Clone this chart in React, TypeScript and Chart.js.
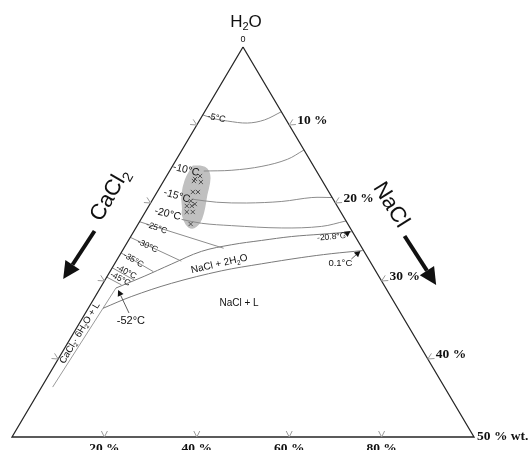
import React, { useEffect, useRef } from 'react';
import { Chart, registerables } from 'chart.js';
Chart.register(...registerables);

// All compositions are [NaCl wt%, CaCl2 wt%]; H2O is the remainder.
const frame = [[0, 0], [50, 0], [0, 50], [0, 0]];
const iso5 = [[0, 8.7], [1.5, 7.7], [3.1, 6.4], [5.35, 4.4], [7.0, 2.35], [8.3, 0]];
const iso10 = [[3.7, 12.2], [6.7, 9.1], [9.7, 5.6], [12.0, 2.4], [13.2, 0]];
const iso15 = [[4.2, 15.3], [7.1, 12.8], [10.4, 9.6], [14.1, 5.7], [17.1, 2.2], [19.3, 0]];
const iso20 = [[4.4, 17.7], [6.8, 15.8], [10.2, 12.7], [15.8, 7.4], [20.0, 3.0], [22.3, 0]];
const iso25 = [[0, 22.4], [10.8, 15.0]];
const iso30 = [[0, 24.4], [7.05, 20.4]];
const iso35 = [[0, 26.4], [4.7, 24.1]];
const iso40 = [[0, 28.3], [3.2, 26.7]];
const iso45 = [[0, 29.5], [2.1, 28.4]];
const iceHydrohalite = [[1.7, 29.2], [4.0, 25.4], [6.15, 21.7], [8.6, 17.6], [11.45, 13.9], [14.4, 10.4], [17.4, 6.9], [20.5, 3.5], [23.6, 0.1]];
const hydrohaliteHalite = [[1.6, 31.9], [3.9, 28.1], [7.4, 22.9], [12.0, 16.7], [15.9, 11.9], [19.8, 7.2], [22.8, 3.7], [26.0, 0.1]];
const antarcticite = [[1.2, 42.4], [1.7, 29.2]];
const inclusionField = [[2.2, 13.1], [3.0, 12.3], [3.9, 11.74], [4.8, 11.99], [5.55, 13.42], [6.3, 14.85], [6.55, 16.0], [6.1, 17.1], [5.2, 17.5], [4.2, 17.3], [3.85, 16.9], [2.9, 16.07], [2.3, 14.75], [2.2, 13.1]];
const inclusions = [[3.62, 12.92], [3.27, 13.65], [3.28, 13.9], [4.1, 13.21], [3.87, 14.72], [4.42, 14.17], [4.22, 15.52], [4.85, 15.28], [4.11, 16.27], [4.65, 15.73], [4.49, 16.66], [5.14, 16.01], [5.68, 17.01]];

const edgeTicks = [10, 20, 30, 40];
const rightTickLabels = ['10 %', '20 %', '30 %', '40 %'];
const bottomTickLabels = ['20 %', '40 %', '60 %', '80 %'];
const cornerLabel = '50 % wt.';

const toXY = (pts: number[][]) => pts.map(([a, c]) => ({ x: (a - c) / 2, y: a + c }));

const SANS = '"Liberation Sans", Arial, sans-serif';
const SERIF = '"Liberation Serif", "Times New Roman", serif';

type Part = { t: string; sub?: boolean; sup?: boolean };

function rich(ctx: CanvasRenderingContext2D, parts: Part[], x: number, y: number, size: number, rot = 0, align = 'center', font = SANS, weight = '') {
  ctx.save();
  ctx.translate(x, y);
  ctx.rotate((rot * Math.PI) / 180);
  ctx.textBaseline = 'middle';
  ctx.textAlign = 'left';
  const fs = (p: Part) => (p.sub || p.sup ? size * 0.65 : size);
  let w = 0;
  parts.forEach((p) => {
    ctx.font = `${weight} ${fs(p)}px ${font}`;
    w += ctx.measureText(p.t).width;
  });
  let cx = align === 'center' ? -w / 2 : align === 'right' ? -w : 0;
  parts.forEach((p) => {
    ctx.font = `${weight} ${fs(p)}px ${font}`;
    const dy = p.sub ? size * 0.32 : p.sup ? -size * 0.32 : 0;
    ctx.fillText(p.t, cx, dy);
    cx += ctx.measureText(p.t).width;
  });
  ctx.restore();
}

function head(ctx: CanvasRenderingContext2D, x1: number, y1: number, x2: number, y2: number, len: number, hw: number) {
  const ang = Math.atan2(y2 - y1, x2 - x1);
  const bx = x2 - len * Math.cos(ang), by = y2 - len * Math.sin(ang);
  const nx = -Math.sin(ang), ny = Math.cos(ang);
  ctx.beginPath();
  ctx.moveTo(x2, y2);
  ctx.lineTo(bx + nx * hw, by + ny * hw);
  ctx.lineTo(bx - nx * hw, by - ny * hw);
  ctx.closePath();
  ctx.fill();
  return [bx, by];
}

const annotations = {
  id: 'annotations',
  afterDatasetsDraw(chart: any) {
    const ctx: CanvasRenderingContext2D = chart.ctx;
    const xs = chart.scales.x, ys = chart.scales.y;
    const P = (a: number, c: number): [number, number] => [xs.getPixelForValue((a - c) / 2), ys.getPixelForValue(a + c)];
    ctx.save();
    // ticks
    ctx.strokeStyle = '#9a9a9a';
    ctx.lineWidth = 1;
    const vmark = (x: number, y: number, nx: number, ny: number) => {
      const ex = -ny, ey = nx;
      ctx.beginPath();
      ctx.moveTo(x + nx * 6 + ex * 3, y + ny * 6 + ey * 3);
      ctx.lineTo(x, y);
      ctx.lineTo(x + nx * 6 - ex * 3, y + ny * 6 - ey * 3);
      ctx.stroke();
    };
    const [ax, ay] = P(0, 0);
    const [rx, ry] = P(50, 0);
    const [lx, ly] = P(0, 50);
    const nrm = (dx: number, dy: number) => { const l = Math.hypot(dx, dy); return [dx / l, dy / l]; };
    const [lnx, lny] = nrm(-(ly - ay), lx - ax); // outward of left edge
    const [rnx, rny] = nrm(ry - ay, -(rx - ax));
    edgeTicks.forEach((v) => {
      const [x1, y1] = P(0, v);
      vmark(x1, y1, lnx, lny);
      const [x2, y2] = P(v, 0);
      vmark(x2, y2, rnx, rny);
      const [x3, y3] = P(v, 50 - v);
      vmark(x3, y3, 0, -1);
    });
    ctx.fillStyle = '#111';
    edgeTicks.forEach((v, i) => {
      const [x, y] = P(v, 0);
      rich(ctx, [{ t: rightTickLabels[i] }], x + 8, y - 4, 13.5, 0, 'left', SERIF, 'bold');
      const [bx, by] = P(v, 50 - v);
      rich(ctx, [{ t: bottomTickLabels[i] }], bx, by + 12, 13.5, 0, 'center', SERIF, 'bold');
    });
    rich(ctx, [{ t: cornerLabel }], rx + 3, ry, 13.5, 0, 'left', SERIF, 'bold');
    // apex
    rich(ctx, [{ t: 'H' }, { t: '2', sub: true }, { t: 'O' }], ax + 3, ay - 25, 17);
    rich(ctx, [{ t: '0' }], ax, ay - 7, 9);
    // component names
    let p = P(-4.92, 23.89);
    rich(ctx, [{ t: 'CaCl' }, { t: '2', sub: true }], p[0], p[1], 22, -60);
    p = P(26.12, -5.86);
    rich(ctx, [{ t: 'NaCl' }], p[0], p[1], 22, 58);
    // big arrows
    const bigArrow = (a1: number, c1: number, a2: number, c2: number) => {
      const [x1, y1] = P(a1, c1);
      const [x2, y2] = P(a2, c2);
      const [bx, by] = head(ctx, x1, y1, x2, y2, 17, 8.5);
      ctx.strokeStyle = '#111';
      ctx.lineWidth = 4;
      ctx.beginPath();
      ctx.moveTo(x1, y1);
      ctx.lineTo(bx, by);
      ctx.stroke();
    };
    bigArrow(-4.27, 27.86, -4.59, 34.33);
    bigArrow(29.6, -5.37, 36.16, -5.65);
    // isotherm labels
    const iso: [string, number, number, number, number][] = [
      ['-5°C', 1.68, 7.42, 12, 9],
      ['-10°C', 1.72, 14.05, 14, 10.5],
      ['-15°C', 2.39, 16.71, 16, 10.5],
      ['-20°C', 2.56, 18.85, 14, 10.5],
      ['-25°C', 2.25, 20.96, 20, 8.5],
      ['-30°C', 2.42, 23.09, 25, 8.5],
      ['-35°C', 1.79, 25.52, 30, 8.5],
      ['-40°C', 1.79, 27.06, 28, 8.5],
      ['-45°C', 1.58, 28.16, 28, 8.5],
    ];
    iso.forEach(([t, a, c, r, s]) => {
      const q = P(a, c);
      rich(ctx, [{ t }], q[0], q[1], s, r);
    });
    // phase field labels
    p = P(11.35, 16.47);
    rich(ctx, [{ t: 'NaCl + 2H' }, { t: '2', sub: true }, { t: 'O' }], p[0], p[1], 10, -13);
    p = P(15.98, 16.84);
    rich(ctx, [{ t: 'NaCl + L' }], p[0], p[1], 10, 0);
    p = P(0.67, 36.0);
    rich(ctx, [{ t: 'CaCl' }, { t: '2', sub: true }, { t: '· 6H' }, { t: '2', sub: true }, { t: 'O + L' }], p[0], p[1], 9.5, -59);
    // point labels with leader arrows
    const leader = (t: string, la: number, lc: number, size: number, rot: number, a1: number, c1: number, a2: number, c2: number) => {
      const q = P(la, lc);
      rich(ctx, [{ t }], q[0], q[1], size, rot);
      const [x1, y1] = P(a1, c1);
      const [x2, y2] = P(a2, c2);
      const [bx, by] = head(ctx, x1, y1, x2, y2, 6, 3.2);
      ctx.strokeStyle = '#333';
      ctx.lineWidth = 0.8;
      ctx.beginPath();
      ctx.moveTo(x1, y1);
      ctx.lineTo(bx, by);
      ctx.stroke();
    };
    leader('-52°C', 5.43, 29.7, 11, 0, 4.71, 29.39, 2.06, 29.09);
    leader('-20.8°C', 21.76, 2.6, 8.5, -5, 23.0, 1.23, 23.44, 0.15);
    leader('0.1°C', 24.38, 3.31, 9.5, 0, 25.32, 1.86, 25.79, 0.36);
    ctx.restore();
  },
};

const thin = (pts: number[][], color = '#8c8c8c', tension = 0.35) => ({
  data: toXY(pts),
  showLine: true,
  borderColor: color,
  borderWidth: 1,
  pointRadius: 0,
  tension,
  fill: false,
  clip: false as any,
});

export default function App() {
  const ref = useRef<HTMLCanvasElement>(null);
  useEffect(() => {
    document.body.style.margin = '0';
    // Chart.js paints the first dataset on top, so the list runs from top layer to bottom layer.
    const chart = new Chart(ref.current!, {
      type: 'scatter',
      data: {
        datasets: [
          {
            data: toXY(inclusions),
            showLine: false,
            pointStyle: 'crossRot',
            pointRadius: 3,
            borderColor: '#444',
            borderWidth: 0.9,
            clip: false,
          } as any,
          { ...thin(frame, '#262626', 0), borderWidth: 1.3 },
          thin(iso5),
          thin(iso10),
          thin(iso15),
          thin(iso20),
          thin(iso25, '#8c8c8c', 0),
          thin(iso30, '#8c8c8c', 0),
          thin(iso35, '#8c8c8c', 0),
          thin(iso40, '#8c8c8c', 0),
          thin(iso45, '#8c8c8c', 0),
          thin(iceHydrohalite, '#7a7a7a'),
          thin(hydrohaliteHalite, '#7a7a7a'),
          thin(antarcticite, '#9a9a9a', 0),
          {
            data: toXY(inclusionField),
            showLine: true,
            borderColor: '#c0c0c0',
            backgroundColor: '#c0c0c0',
            borderWidth: 1.5,
            pointRadius: 0,
            tension: 0.4,
            fill: 'shape',
            clip: false,
          } as any,
        ],
      },
      options: {
        animation: false,
        responsive: false,
        devicePixelRatio: 1,
        events: [],
        layout: { padding: { left: 12, right: 55, top: 47, bottom: 13 } },
        scales: {
          x: { type: 'linear', min: -25, max: 25, display: false },
          y: { type: 'linear', min: 0, max: 50, reverse: true, display: false },
        },
        plugins: { legend: { display: false }, tooltip: { enabled: false } },
      },
      plugins: [annotations],
    });
    return () => chart.destroy();
  }, []);
  return (
    <div style={{ position: 'absolute', left: 0, top: 0, width: 529, height: 450, background: '#fff' }}>
      <canvas ref={ref} width={529} height={450} />
    </div>
  );
}
